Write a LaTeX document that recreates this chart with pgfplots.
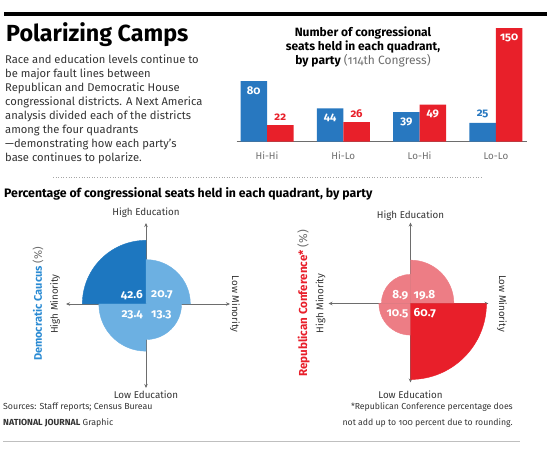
\documentclass[border=0pt]{standalone}
\usepackage{fontspec}
\setmainfont{Fira Sans}[Numbers=OldStyle]
\usepackage{pgfplots}
\pgfplotsset{compat=1.18}
\usetikzlibrary{arrows.meta}
\definecolor{barblue}{HTML}{2878C0}
\definecolor{barred}{HTML}{E8202A}
\definecolor{demdark}{HTML}{1D77C0}
\definecolor{demlight}{HTML}{6CB0E2}
\definecolor{repdark}{HTML}{E81F2A}
\definecolor{replight}{HTML}{ED7D85}
\definecolor{partyblue}{HTML}{2B8BD3}
\definecolor{axgray}{HTML}{6D6D6D}
\definecolor{txt}{HTML}{333333}
\newcommand\fs[2]{\fontsize{#1bp}{#2bp}\selectfont}
\pgfplotsset{
  sector/.style={only marks, scatter, mark=*, mark size=0pt,
    point meta=\thisrow{p},
    visualization depends on={9.75*sqrt(\thisrow{p}) \as \rad},
    visualization depends on={\thisrow{a} \as \ang},
    scatter/@pre marker code/.code={\fill[#1] (0pt,0pt) -- (\ang:\rad bp) arc[start angle=\ang, delta angle=90, radius=\rad bp] -- cycle;},
    scatter/@post marker code/.code={}},
  qlab/.style={only marks, mark=none, nodes near coords, point meta=explicit symbolic,
    every node near coord/.append style={anchor=#1, white, font=\fs{11.8}{12}\bfseries, inner sep=0pt}},
  quad/.style={x=1bp, y=1bp, axis lines=middle, axis on top, clip=false,
    axis line style={axgray, line width=0.7bp, {Stealth[length=4bp,width=3.5bp]}-{Stealth[length=4bp,width=3.5bp]}},
    xtick=\empty, ytick=\empty, anchor=origin},
}
\begin{document}
\begin{tikzpicture}
\path[use as bounding box] (0,0) rectangle (550bp,457bp);
% top rule
\draw[line width=4bp, black] (4bp,443.3bp) -- (547bp,443.3bp);
\node[anchor=base west, inner sep=0pt, font=\fs{23.3}{26}\bfseries] at (6bp,415bp) {Polarizing Camps};
\foreach \t [count=\i from 0] in {Race and education levels continue to,be major fault lines between,Republican and Democratic House,congressional districts. A Next America,analysis divided each of the districts,among the four quadrants,---demonstrating how each party's,base continues to polarize.}
  \node[anchor=base west, inner sep=0pt, font=\fs{11.2}{14}, text=txt] at (5bp,{(393.7-14*\i)*1bp}) {\t};
% bar title
\node[anchor=base, inner sep=0pt, font=\fs{12}{14}\bfseries] at (363bp,420bp) {Number of congressional};
\node[anchor=base, inner sep=0pt, font=\fs{12}{14}\bfseries] at (363bp,406bp) {seats held in each quadrant,};
\node[anchor=base, inner sep=0pt, font=\fs{12}{14}] at (363bp,392bp) {\textbf{by party} \textcolor{axgray}{(114th Congress)}};
% bar chart
\begin{axis}[at={(267bp,315.3bp)}, anchor=origin, x=76.3bp, y=0.757bp,
  xmin=-0.397, xmax=3.41, ymin=0, ymax=150,
  axis x line*=bottom, axis y line=none, clip=false,
  x axis line style={axgray, line width=0.8bp, -},
  xtick={0,1,2,3}, xticklabels={Hi-Hi,Hi-Lo,Lo-Hi,Lo-Lo}, major tick length=0pt,
  xticklabel style={anchor=center, yshift=-14.3bp, font=\fs{9.8}{11}, text=axgray},
  ytick=\empty]
\addplot[ybar, bar width=26.5bp, bar shift=-13.25bp, fill=barblue, draw=none] coordinates {(0,80) (1,44) (2,39) (3,25)};
\addplot[ybar, bar width=26.5bp, bar shift=13.25bp, fill=barred, draw=none] coordinates {(0,22) (1,26) (2,49) (3,150)};
\addplot[only marks, mark=none, nodes near coords, point meta=explicit symbolic,
  every node near coord/.append style={anchor=center, yshift=-9.5bp, white, font=\fs{11.3}{12}\bfseries}]
  coordinates {(-0.1737,80) [80] (0.8263,44) [44] (1.8263,39) [39] (2.1737,49) [49] (3.1737,150) [150]};
\addplot[only marks, mark=none, nodes near coords, point meta=explicit symbolic,
  every node near coord/.append style={anchor=center, yshift=8bp, barred, font=\fs{11.3}{12}\bfseries}]
  coordinates {(0.1737,22) [22] (1.1737,26) [26]};
\addplot[only marks, mark=none, nodes near coords, point meta=explicit symbolic,
  every node near coord/.append style={anchor=center, yshift=8.5bp, barblue, font=\fs{11.3}{12}\bfseries}]
  coordinates {(2.8263,25) [25]};
\end{axis}
% dotted separator
\draw[gray!70, dotted, line width=0.6bp] (53bp,280bp) -- (482bp,280bp);
\node[anchor=base west, inner sep=0pt, font=\fs{12.3}{13}\bfseries] at (4bp,259.5bp) {Percentage of congressional seats held in each quadrant, by party};
% Democratic quadrant
\begin{axis}[quad, at={(146bp,153bp)}, xmin=-80, xmax=84, ymin=-84, ymax=81]
\addplot[sector=demdark] table[row sep=\\] {x y p a \\ 0 0 42.6 90 \\};
\addplot[sector=demlight] table[row sep=\\] {x y p a \\ 0 0 20.7 0 \\ 0 0 23.4 180 \\ 0 0 13.3 270 \\};
\addplot[qlab=east] coordinates {(-3,9) [42.6] (-3,-10.5) [23.4]};
\addplot[qlab=west] coordinates {(5,9) [20.7] (5,-10.5) [13.3]};
\node[font=\fs{9.8}{11}, text=txt] at (axis cs:0,91) {High Education};
\node[font=\fs{9.8}{11}, text=txt] at (axis cs:0,-91) {Low Education};
\node[font=\fs{9.8}{11}, text=txt, rotate=90] at (axis cs:-91,0) {High Minority};
\node[font=\fs{9.8}{11}, text=txt, rotate=-90] at (axis cs:89,0) {Low Minority};
\node[font=\fs{11}{13}, rotate=90] at (axis cs:-108,0) {\textcolor{partyblue}{\bfseries Democratic Caucus} \textcolor{axgray}{(\%)}};
\end{axis}
% Republican quadrant
\begin{axis}[quad, at={(410.5bp,153.5bp)}, xmin=-82, xmax=78, ymin=-79, ymax=81]
\addplot[sector=replight] table[row sep=\\] {x y p a \\ 0 0 19.8 0 \\ 0 0 8.9 90 \\ 0 0 10.5 180 \\};
\addplot[sector=repdark] table[row sep=\\] {x y p a \\ 0 0 60.7 270 \\};
\addplot[qlab=east] coordinates {(-2,8.5) [8.9] (-2,-10) [10.5]};
\addplot[qlab=west] coordinates {(3,8.5) [19.8] (3,-10) [60.7]};
\node[font=\fs{9.8}{11}, text=txt] at (axis cs:0,88) {High Education};
\node[font=\fs{9.8}{11}, text=txt] at (axis cs:0,-91) {Low Education};
\node[font=\fs{9.8}{11}, text=txt, rotate=90] at (axis cs:-90,0) {High Minority};
\node[font=\fs{9.8}{11}, text=txt, rotate=-90] at (axis cs:91.5,0) {Low Minority};
\node[font=\fs{11.6}{13}, rotate=90] at (axis cs:-107,0) {\textcolor{repdark}{\bfseries Republican Conference*} \textcolor{axgray}{(\%)}};
\end{axis}
% footer
\node[anchor=base west, inner sep=0pt, font=\fs{8.8}{10}, text=txt] at (3bp,47bp) {Sources: Staff reports; Census Bureau};
\node[anchor=base west, inner sep=0pt, font=\fs{8.8}{10}, text=txt] at (3bp,31.5bp) {\textbf{NATIONAL JOURNAL} Graphic};
\node[anchor=base east, inner sep=0pt, font=\fs{8.7}{10}, text=txt] at (513bp,47bp) {*Republican Conference percentage does};
\node[anchor=base east, inner sep=0pt, font=\fs{8.7}{10}, text=txt] at (513bp,31.5bp) {not add up to 100 percent due to rounding.};
\draw[gray!50, line width=0.8bp] (3bp,15.3bp) -- (520bp,15.3bp);
\end{tikzpicture}
\end{document}
